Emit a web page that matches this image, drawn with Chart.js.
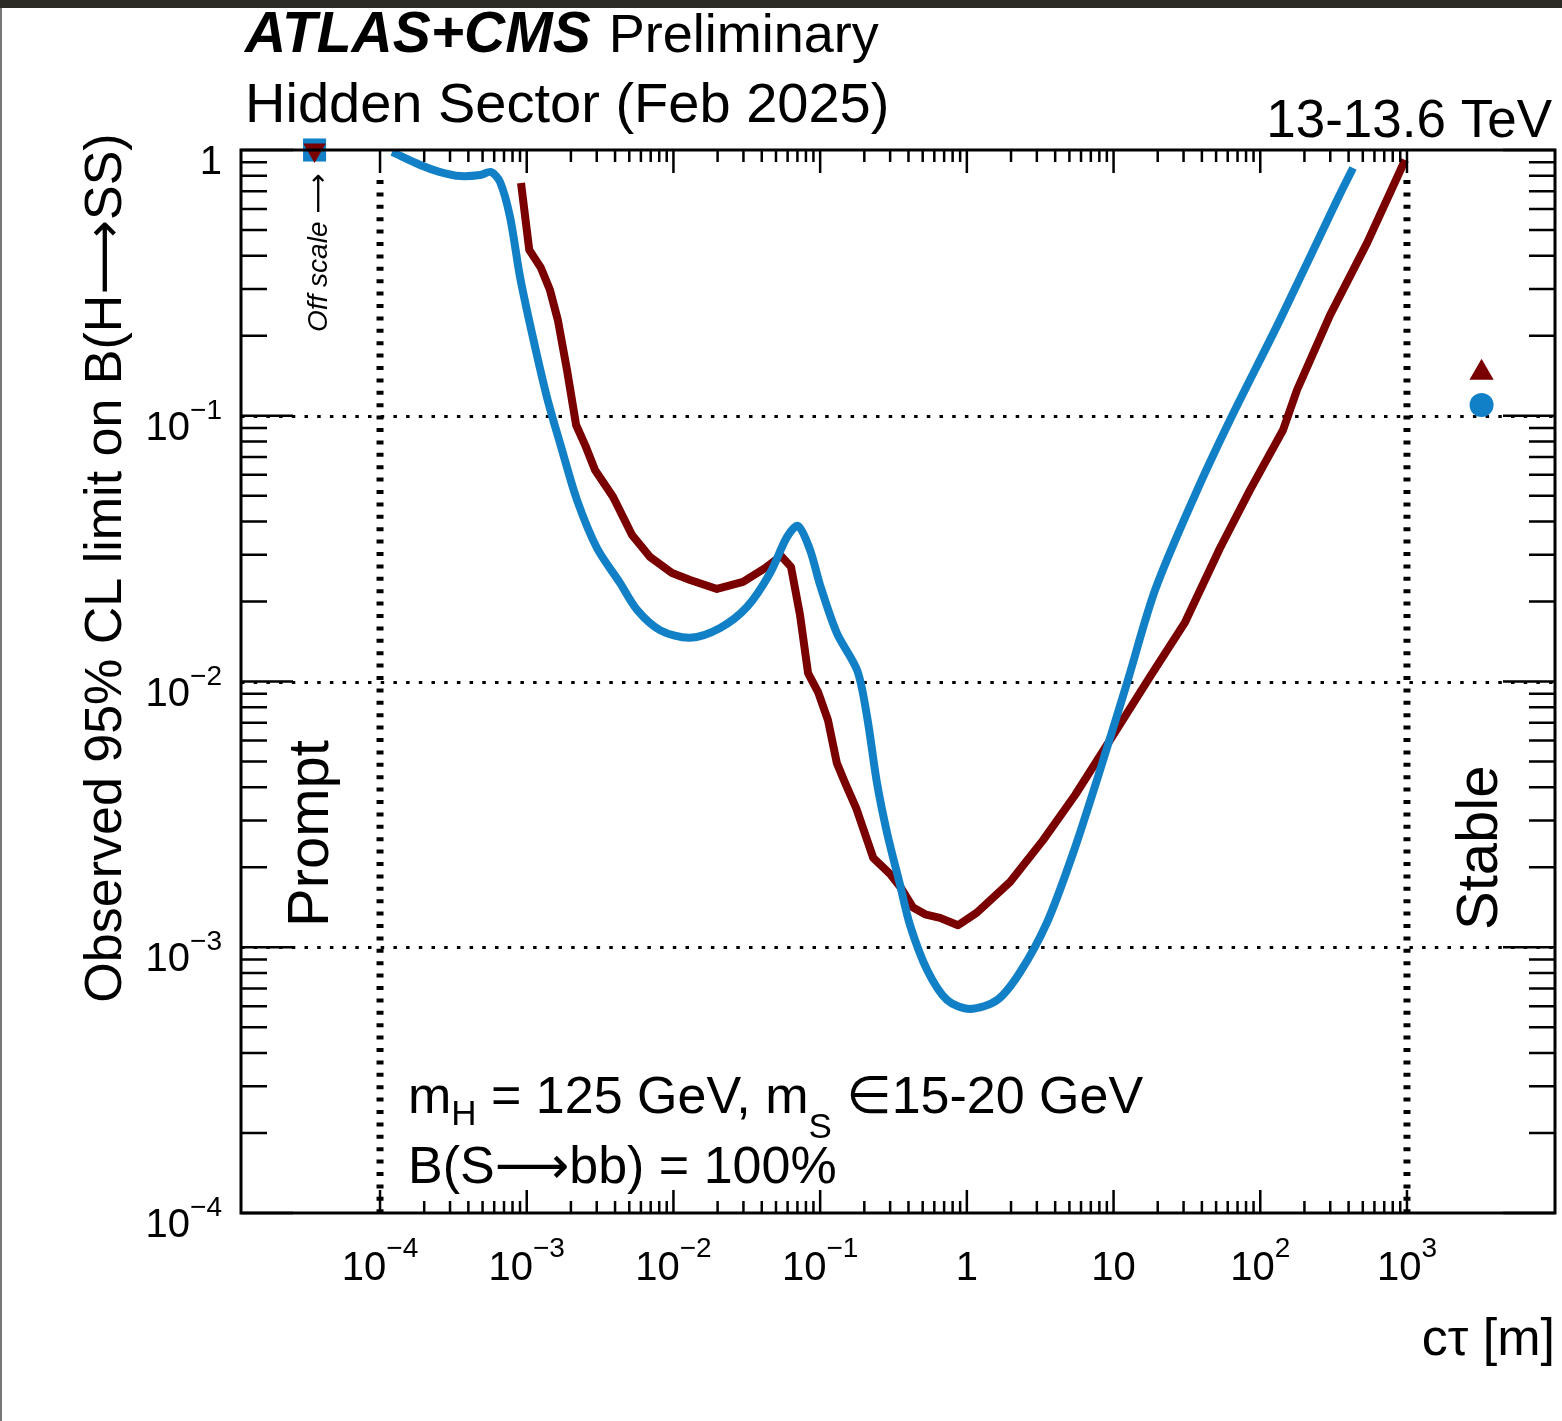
<!DOCTYPE html>
<html>
<head>
<meta charset="utf-8">
<script src="https://cdn.jsdelivr.net/npm/chart.js@4.4.1/dist/chart.umd.min.js"></script>
<style>
  body { margin: 0; background: #fff; }
  canvas { display: block; }
</style>
</head>
<body>
<canvas id="myChart" width="1562" height="1421"></canvas>
<script>
// Observed limits, c*tau [m] vs B(H->SS)
const blueCt = [1.21e-4, 1.88e-4, 2.57e-4, 3.51e-4, 4.81e-4, 5.71e-4, 6.58e-4, 7.69e-4, 9.0e-4, 1.10e-3,
    1.37e-3, 1.74e-3, 2.20e-3, 3.01e-3, 4.32e-3, 5.65e-3, 8.11e-3, 0.0130, 0.0208, 0.0318,
    0.0456, 0.0595, 0.0707, 0.0853, 0.0998, 0.130, 0.179, 0.209, 0.244, 0.286,
    0.351, 0.410, 0.536, 0.733, 1.05, 1.61, 2.31, 3.52, 5.30, 8.09,
    12.4, 19.2, 35.9, 62.2, 136, 334, 429];
const blueLimit = [0.983, 0.878, 0.826, 0.798, 0.805, 0.826, 0.758, 0.560, 0.333, 0.198,
    0.118, 0.0743, 0.0482, 0.0318, 0.0235, 0.0186, 0.0156, 0.0146, 0.0159, 0.0191,
    0.0256, 0.0350, 0.0385, 0.0313, 0.0231, 0.0152, 0.0110, 0.00735, 0.00415, 0.00269,
    0.00171, 0.00121, 8.21e-4, 6.33e-4, 5.86e-4, 6.33e-4, 8.07e-4, 1.24e-3, 2.26e-3, 4.64e-3,
    9.95e-3, 0.0221, 0.0503, 0.0964, 0.229, 0.648, 0.856];

const redCt = [9.14e-4, 1.04e-3, 1.25e-3, 1.44e-3, 1.63e-3, 1.88e-3, 2.17e-3, 2.50e-3, 2.92e-3, 3.88e-3,
    5.22e-3, 6.93e-3, 9.78e-3, 0.0130, 0.0198, 0.0298, 0.0421, 0.0541, 0.0633, 0.0729,
    0.0827, 0.0968, 0.113, 0.130, 0.148, 0.176, 0.230, 0.299, 0.351, 0.430,
    0.519, 0.656, 0.871, 1.17, 1.97, 3.31, 5.47, 9.46, 17.7, 30.7,
    53.2, 85.2, 143, 178, 299, 535, 971];
const redLimit = [0.751, 0.421, 0.360, 0.297, 0.229, 0.149, 0.0923, 0.0776, 0.0625, 0.0495,
    0.0356, 0.0294, 0.0256, 0.0241, 0.0223, 0.0237, 0.0267, 0.0297, 0.0270, 0.0178,
    0.01076, 9.13e-3, 7.16e-3, 4.93e-3, 4.15e-3, 3.34e-3, 2.17e-3, 1.89e-3, 1.69e-3, 1.41e-3,
    1.33e-3, 1.29e-3, 1.21e-3, 1.35e-3, 1.76e-3, 2.53e-3, 3.74e-3, 6.02e-3, 0.0104, 0.0167,
    0.0318, 0.0526, 0.0884, 0.125, 0.239, 0.447, 0.917];

// off scale (prompt side) and stable points
const offScaleCt = 3.58e-5;
const offScaleLimit = 1;
const stableCt = 3225;
const stableBlue = 0.1098;
const stableRed = 0.145;

// axes
const xMin = 1.128e-5, xMax = 1.021e4;
const yMin = 1e-4, yMax = 1;
const xTickValues = [1e-4, 1e-3, 1e-2, 1e-1, 1, 10, 100, 1000];
const xTickLabels = [['10', '\u22124'], ['10', '\u22123'], ['10', '\u22122'], ['10', '\u22121'], ['1', ''], ['10', ''], ['10', '2'], ['10', '3']];
const yTickValues = [1, 0.1, 0.01, 0.001, 1e-4];
const yTickLabels = [['1', ''], ['10', '\u22121'], ['10', '\u22122'], ['10', '\u22123'], ['10', '\u22124']];
const gridValues = [0.1, 0.01, 0.001];
const boundaryValues = [1e-4, 1000];

const BLUE = '#1280c6';
const RED = '#7a0000';
const FONT = '"Liberation Sans", "DejaVu Sans", Arial, sans-serif';

const toXY = (xs, ys) => xs.map((x, i) => ({ x: x, y: ys[i] }));

const frame = {
    id: 'frame',
    beforeDatasetsDraw(chart) {
        const { ctx, chartArea: a, scales: { x, y } } = chart;
        ctx.save();
        ctx.strokeStyle = '#000';
        ctx.lineWidth = 3;
        ctx.setLineDash([3.5, 9.2]);
        gridValues.forEach(v => {
            const py = Math.round(y.getPixelForValue(v)) + 0.5;
            ctx.beginPath();
            ctx.moveTo(a.left, py);
            ctx.lineTo(a.right, py);
            ctx.stroke();
        });
        ctx.lineWidth = 7;
        ctx.setLineDash([4, 8.4]);
        boundaryValues.forEach(v => {
            const px = x.getPixelForValue(v);
            ctx.beginPath();
            ctx.moveTo(px, a.top + 30);
            ctx.lineTo(px, a.bottom);
            ctx.stroke();
        });
        ctx.restore();
    },
    afterDatasetsDraw(chart) {
        const { ctx, chartArea: a, scales: { x, y } } = chart;
        ctx.save();
        // page edges
        ctx.fillStyle = '#2d2b26';
        ctx.fillRect(0, 0, chart.width, 8);
        ctx.fillStyle = '#777';
        ctx.fillRect(0, 8, 2, chart.height - 8);

        ctx.strokeStyle = '#000';
        ctx.lineWidth = 2.5;
        ctx.beginPath();
        // x ticks
        for (let d = -4; d <= 3; d++) {
            const px = x.getPixelForValue(Math.pow(10, d));
            ctx.moveTo(px, a.bottom); ctx.lineTo(px, a.bottom - 23);
            ctx.moveTo(px, a.top); ctx.lineTo(px, a.top + 23);
            if (d < 3) {
                for (let k = 2; k <= 9; k++) {
                    const pm = x.getPixelForValue(k * Math.pow(10, d));
                    ctx.moveTo(pm, a.bottom); ctx.lineTo(pm, a.bottom - 12);
                    ctx.moveTo(pm, a.top); ctx.lineTo(pm, a.top + 12);
                }
            }
        }
        // y ticks
        for (let d = -4; d <= 0; d++) {
            const py = y.getPixelForValue(Math.pow(10, d));
            ctx.moveTo(a.left, py); ctx.lineTo(a.left + 52, py);
            ctx.moveTo(a.right, py); ctx.lineTo(a.right - 52, py);
            if (d < 0) {
                for (let k = 2; k <= 9; k++) {
                    const pm = y.getPixelForValue(k * Math.pow(10, d));
                    ctx.moveTo(a.left, pm); ctx.lineTo(a.left + 26, pm);
                    ctx.moveTo(a.right, pm); ctx.lineTo(a.right - 26, pm);
                }
            }
        }
        ctx.stroke();
        ctx.lineWidth = 3;
        ctx.strokeRect(a.left, a.top, a.right - a.left, a.bottom - a.top);

        ctx.fillStyle = '#000';
        ctx.textBaseline = 'alphabetic';
        // x tick labels
        xTickValues.forEach((v, i) => {
            const [base, exp] = xTickLabels[i];
            ctx.font = '40px ' + FONT;
            const wb = ctx.measureText(base).width;
            ctx.font = '28px ' + FONT;
            const we = exp ? ctx.measureText(exp).width : 0;
            const px = x.getPixelForValue(v) - (wb + we) / 2;
            ctx.textAlign = 'left';
            ctx.font = '40px ' + FONT;
            ctx.fillText(base, px, 1280);
            if (exp) {
                ctx.font = '28px ' + FONT;
                ctx.fillText(exp, px + wb, 1257);
            }
        });
        // y tick labels
        yTickValues.forEach((v, i) => {
            const [base, exp] = yTickLabels[i];
            const py = y.getPixelForValue(v);
            ctx.font = '28px ' + FONT;
            const we = exp ? ctx.measureText(exp).width : 0;
            ctx.textAlign = 'right';
            if (exp) ctx.fillText(exp, 222, py + 3);
            ctx.font = '40px ' + FONT;
            ctx.fillText(base, 222 - we, py + 24);
        });

        // titles
        ctx.textAlign = 'right';
        ctx.font = '52px ' + FONT;
        ctx.fillText('c\u03c4 [m]', 1555, 1355);

        ctx.save();
        ctx.translate(121, 568);
        ctx.rotate(-Math.PI / 2);
        ctx.textAlign = 'center';
        ctx.font = '52px ' + FONT;
        ctx.fillText('Observed 95% CL limit on B(H\u27f6SS)', 0, 0);
        ctx.restore();

        ctx.textAlign = 'left';
        ctx.font = 'italic bold 57px ' + FONT;
        ctx.fillText('ATLAS+CMS', 245, 52);
        const wa = ctx.measureText('ATLAS+CMS').width + 18;
        ctx.font = '54px ' + FONT;
        ctx.fillText('Preliminary', 245 + wa, 52);
        ctx.font = '56px ' + FONT;
        ctx.fillText('Hidden Sector (Feb 2025)', 245, 122);
        ctx.textAlign = 'right';
        ctx.font = '53px ' + FONT;
        ctx.fillText('13-13.6 TeV', 1552, 137);

        // mass text with subscripts
        ctx.textAlign = 'left';
        let cx = 408;
        const part = (t, size, dy) => {
            ctx.font = size + 'px ' + FONT;
            ctx.fillText(t, cx, 1113 + dy);
            cx += ctx.measureText(t).width;
        };
        part('m', 52, 0);
        part('H', 35, 12);
        part(' = 125 GeV, m', 52, 0);
        part('S', 35, 25);
        part(' \u220815-20 GeV', 52, 0);
        ctx.font = '52px ' + FONT;
        ctx.fillText('B(S\u27f6bb) = 100%', 408, 1183);

        // rotated region labels
        const rotText = (t, px, py, font) => {
            ctx.save();
            ctx.translate(px, py);
            ctx.rotate(-Math.PI / 2);
            ctx.textAlign = 'left';
            ctx.font = font;
            ctx.fillText(t, 0, 0);
            ctx.restore();
        };
        rotText('Prompt', 328, 927, '58px ' + FONT);
        rotText('Stable', 1497, 930, '58px ' + FONT);
        rotText('Off scale \u27f6', 327, 332, 'italic 28px ' + FONT);
        ctx.restore();
    }
};

const ctx = document.getElementById('myChart').getContext('2d');
new Chart(ctx, {
    type: 'scatter',
    data: {
        datasets: [
            {
                data: [{ x: offScaleCt, y: offScaleLimit }],
                pointStyle: 'triangle', rotation: 180, pointRadius: 13,
                backgroundColor: RED, borderWidth: 0, clip: false
            },
            {
                data: [{ x: offScaleCt, y: offScaleLimit }],
                pointStyle: 'rect', pointRadius: 16.3,
                backgroundColor: BLUE, borderWidth: 0, clip: false
            },
            {
                data: [{ x: stableCt, y: stableRed }],
                pointStyle: 'triangle', pointRadius: 14,
                backgroundColor: RED, borderWidth: 0
            },
            {
                data: [{ x: stableCt, y: stableBlue }],
                pointStyle: 'circle', pointRadius: 12,
                backgroundColor: BLUE, borderWidth: 0
            },
            {
                data: toXY(blueCt, blueLimit),
                showLine: true, pointRadius: 0,
                borderColor: BLUE, borderWidth: 8,
                borderJoinStyle: 'round', tension: 0.3
            },
            {
                data: toXY(redCt, redLimit),
                showLine: true, pointRadius: 0,
                borderColor: RED, borderWidth: 8,
                borderJoinStyle: 'round', tension: 0
            }
        ]
    },
    options: {
        responsive: false,
        animation: false,
        layout: { autoPadding: false, padding: { left: 241, right: 7, top: 150, bottom: 208 } },
        plugins: { legend: { display: false }, tooltip: { enabled: false } },
        scales: {
            x: { type: 'logarithmic', min: xMin, max: xMax, display: false },
            y: { type: 'logarithmic', min: yMin, max: yMax, display: false }
        }
    },
    plugins: [frame]
});
</script>
</body>
</html>
